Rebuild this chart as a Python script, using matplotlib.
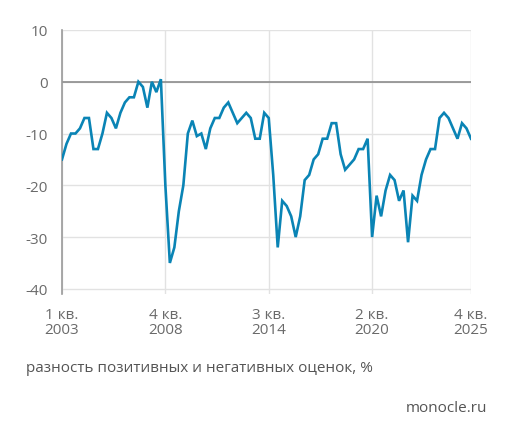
import numpy as np
import matplotlib.pyplot as plt

plt.rcParams['font.family'] = ['Open Sans', 'DejaVu Sans']
plt.rcParams['axes.unicode_minus'] = False

# quarterly values, 1 кв. 2003 .. 4 кв. 2025
values = [-15, -12, -10, -10, -9, -7, -7, -13, -13, -10,
          -6, -7, -9, -6, -4, -3, -3, 0, -1, -5,
          0, -2, 0.5, -20, -35, -32, -25, -20, -10, -7.5,
          -10.5, -10, -13, -9, -7, -7, -5, -4, -6, -8,
          -7, -6, -7, -11, -11, -6, -7, -18, -32, -23,
          -24, -26, -30, -26, -19, -18, -15, -14, -11, -11,
          -8, -8, -14, -17, -16, -15, -13, -13, -11, -30,
          -22, -26, -21, -18, -19, -23, -21, -31, -22, -23,
          -18, -15, -13, -13, -7, -6, -7, -9, -11, -8,
          -9, -11]
tick_pos = [0, 23, 46, 69, 91]
tick_labels = ['1 кв.\n2003', '4 кв.\n2008', '3 кв.\n2014', '2 кв.\n2020', '4 кв.\n2025']
y_ticks = [10, 0, -10, -20, -30, -40]

fig = plt.figure(figsize=(5.14, 4.39), dpi=100)
ax = fig.add_axes([0.1206, 0.328, 0.7957, 0.6014])

x = np.arange(len(values))
ax.plot(x, values, color='#0a84b5', lw=1.9, solid_joinstyle='miter', zorder=3)

ax.set_xlim(0, 91)
ax.set_ylim(-41, 10)
ax.set_yticks(y_ticks)
ax.set_xticks(tick_pos)
ax.set_xticklabels(tick_labels)
ax.grid(True, color='#e2e2e2', lw=1.0)
ax.axhline(0, color='#8c8c8c', lw=1.2, zorder=2)

for s in ['top', 'right', 'bottom']:
    ax.spines[s].set_visible(False)
ax.spines['left'].set_color('#9a9a9a')
ax.spines['left'].set_linewidth(1.2)

ax.tick_params(axis='y', length=0, pad=10, labelsize=11, labelcolor='#6a6a6a')
ax.tick_params(axis='x', length=0, pad=9, labelsize=11, labelcolor='#6a6a6a')
for t in ax.get_xticklabels():
    t.set_linespacing(1.05)

fig.text(26 / 514, 1 - 369 / 439, 'разность позитивных и негативных оценок, %',
         fontsize=11, color='#555555', va='center', ha='left')
fig.text(487 / 514, 1 - 409 / 439, 'monocle.ru',
         fontsize=11, color='#555555', va='center', ha='right')

fig.savefig('out.png', dpi=100)
